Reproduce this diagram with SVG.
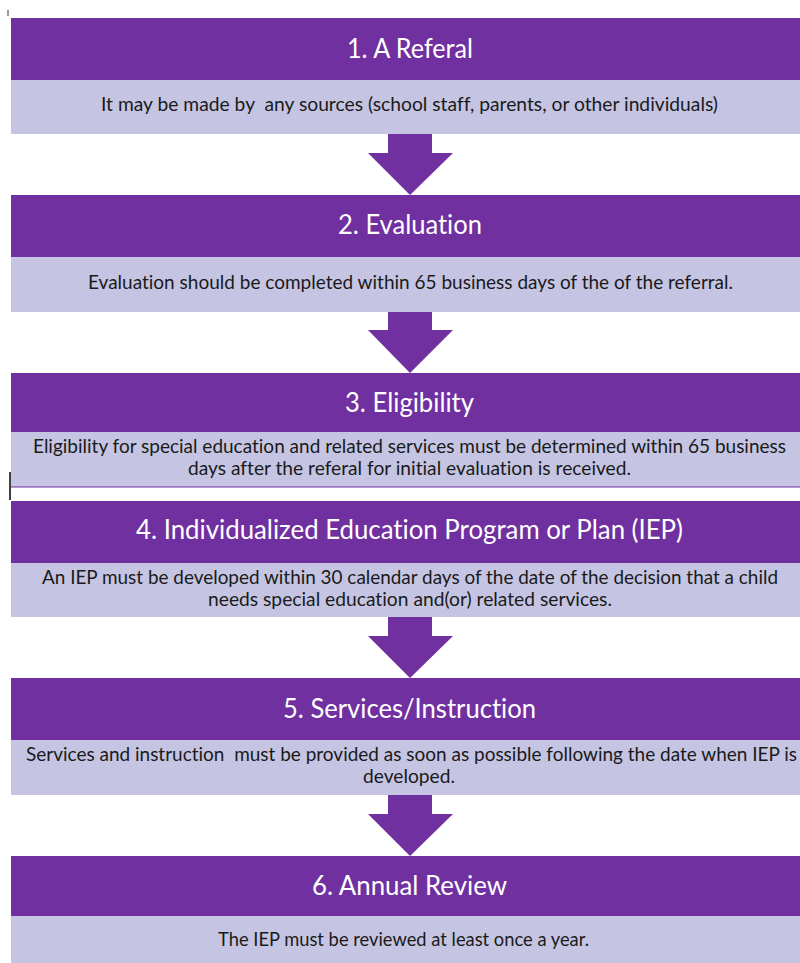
<svg xmlns="http://www.w3.org/2000/svg" width="800" height="963" viewBox="0 0 800 963">
<style>
.hd{fill:#7030A0}
.bd{fill:#C5C5E3}
.ht{font-family:Lato,"Open Sans","Liberation Sans",sans-serif;font-size:27px;fill:#FFFFFF;font-variant-ligatures:none;white-space:pre}
.bt{font-family:Lato,"Open Sans","Liberation Sans",sans-serif;font-size:19px;fill:#1A1A1A;font-variant-ligatures:none;white-space:pre}
.ar{fill:#7030A0}
</style>
<rect width="800" height="963" fill="#FFFFFF"/>
<line x1="8" y1="10" x2="8" y2="16" stroke="#9A9A9A" stroke-width="2"/>
<g id="node1">
<rect class="hd" x="11" y="18" width="789" height="62"/>
<rect class="bd" x="11" y="80" width="789" height="54"/>
<text class="ht" x="347" y="58" textLength="126" lengthAdjust="spacingAndGlyphs">1. A Referal</text>
<text class="bt" x="101" y="111" textLength="617" lengthAdjust="spacingAndGlyphs">It may be made by  any sources (school staff, parents, or other individuals)</text>
</g>
<g id="node2">
<rect class="hd" x="11" y="195" width="789" height="62"/>
<rect class="bd" x="11" y="257" width="789" height="55"/>
<text class="ht" x="338" y="234" textLength="144" lengthAdjust="spacingAndGlyphs">2. Evaluation</text>
<text class="bt" x="88" y="289" textLength="645" lengthAdjust="spacingAndGlyphs">Evaluation should be completed within 65 business days of the of the referral.</text>
</g>
<g id="node3">
<rect class="hd" x="11" y="373" width="789" height="59"/>
<rect class="bd" x="11" y="432" width="789" height="55"/>
<line x1="11" y1="487" x2="800" y2="487" stroke="#7030A0" stroke-width="1.2"/>
<text class="ht" x="345" y="412" textLength="129" lengthAdjust="spacingAndGlyphs">3. Eligibility</text>
<text class="bt" x="33" y="453" textLength="753" lengthAdjust="spacingAndGlyphs">Eligibility for special education and related services must be determined within 65 business</text>
<text class="bt" x="188" y="475" textLength="443" lengthAdjust="spacingAndGlyphs">days after the referal for initial evaluation is received.</text>
</g>
<line x1="10" y1="472" x2="10" y2="500" stroke="#000000" stroke-width="1.5"/>
<g id="node4">
<rect class="hd" x="11" y="501" width="789" height="62"/>
<rect class="bd" x="11" y="563" width="789" height="54"/>
<text class="ht" x="136" y="539" textLength="547" lengthAdjust="spacingAndGlyphs">4. Individualized Education Program or Plan (IEP)</text>
<text class="bt" x="42" y="584" textLength="736" lengthAdjust="spacingAndGlyphs">An IEP must be developed within 30 calendar days of the date of the decision that a child</text>
<text class="bt" x="208" y="606" textLength="404" lengthAdjust="spacingAndGlyphs">needs special education and(or) related services.</text>
</g>
<g id="node5">
<rect class="hd" x="11" y="678" width="789" height="62"/>
<rect class="bd" x="11" y="740" width="789" height="55"/>
<text class="ht" x="283" y="718" textLength="253" lengthAdjust="spacingAndGlyphs">5. Services/Instruction</text>
<text class="bt" x="26" y="761" textLength="771" lengthAdjust="spacingAndGlyphs">Services and instruction  must be provided as soon as possible following the date when IEP is</text>
<text class="bt" x="363" y="783" textLength="92" lengthAdjust="spacingAndGlyphs">developed.</text>
</g>
<g id="node6">
<rect class="hd" x="11" y="856" width="789" height="60"/>
<rect class="bd" x="11" y="916" width="789" height="47"/>
<text class="ht" x="312" y="895" textLength="195" lengthAdjust="spacingAndGlyphs">6. Annual Review</text>
<text class="bt" x="218" y="946" textLength="371" lengthAdjust="spacingAndGlyphs">The IEP must be reviewed at least once a year.</text>
</g>
<g id="connectors">
<polygon class="ar" points="388,134 432,134 432,153 453,153 410,195 368,153 388,153"/>
<polygon class="ar" points="388,312 432,312 432,330 453,330 410,373 368,330 388,330"/>
<polygon class="ar" points="388,617 432,617 432,636 453,636 410,678 368,636 388,636"/>
<polygon class="ar" points="388,795 432,795 432,814 453,814 410,856 368,814 388,814"/>
</g>
</svg>
